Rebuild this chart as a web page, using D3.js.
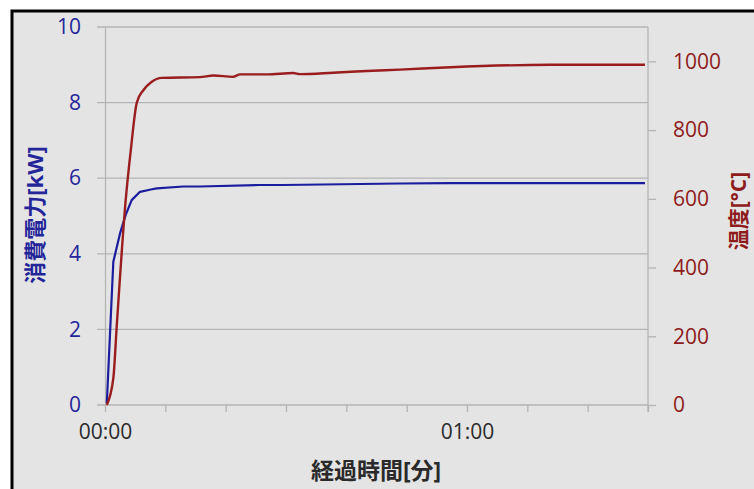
<!DOCTYPE html>
<html>
<head>
<meta charset="utf-8">
<script src="https://cdn.jsdelivr.net/npm/d3@7"></script>
<style>
	body { margin: 0; background: #fff; }
	text { font-family: "Open Sans", "Noto Sans CJK JP", sans-serif; }
</style>
</head>
<body>
<div id="chartDiv"></div>
<script>

// elapsed minutes for each reading
let tempMinutes = [0.3, 1.38, 1.94, 3.43, 4.27, 5.27, 6.35, 7.7, 9.4, 15.7, 18.0, 21.2, 22.4, 26.8, 31.2, 32.3, 37.8, 43.4, 48.9, 57.3, 73.8, 89.5]
let tempValues  = [0, 78, 228, 596, 741, 880, 916, 940, 952, 954, 959, 955, 962, 962, 966, 963, 967, 972, 976, 983, 990, 990]

let powerMinutes = [0.3, 1.38, 2.49, 3.43, 4.42, 5.8, 7.6, 8.6, 13.0, 15.7, 25.5, 29.5, 48.9, 57.3, 89.5]
let powerValues  = [0.05, 3.79, 4.54, 5.03, 5.42, 5.64, 5.70, 5.73, 5.78, 5.78, 5.82, 5.82, 5.86, 5.87, 5.87]

let xTicks = [0, 10, 20, 30, 40, 50, 60, 70, 80, 90]
let xLabelTicks = [0, 60]
let powerTicks = [0, 2, 4, 6, 8, 10]
let tempTicks = [0, 200, 400, 600, 800, 1000]

class DualChart {

	constructor(parentElement){
		this.parentElement = parentElement
		this.initVis()
	}

	initVis(){
		let vis = this
		vis.margin = {top: 27, right: 106, bottom: 84, left: 105};
		vis.width = 754 - vis.margin.left - vis.margin.right
		vis.height = 489 - vis.margin.top - vis.margin.bottom

		vis.svg = d3.select(vis.parentElement).append("svg")
			.attr("width", 754)
			.attr("height", 489)

		// panel background and the frame
		vis.svg.append("rect")
			.attr("x", 12).attr("y", 11)
			.attr("width", 760).attr("height", 500)
			.attr("fill", "#e4e4e4")
			.attr("stroke", "#000")
			.attr("stroke-width", 3)

		vis.g = vis.svg.append("g")
			.attr("transform", "translate(" + vis.margin.left + "," + vis.margin.top + ")")

		vis.x = d3.scaleLinear().domain([0, 90]).range([0, vis.width])
		vis.yPower = d3.scaleLinear().domain([0, 10]).range([vis.height, 0])
		vis.yTemp = d3.scaleLinear().domain([0, 1100]).range([vis.height, 0])

		// horizontal gridlines
		vis.g.selectAll(".grid")
			.data(powerTicks)
			.enter().append("line")
			.attr("class", "grid")
			.attr("x1", -8).attr("x2", vis.width)
			.attr("y1", d => vis.yPower(d)).attr("y2", d => vis.yPower(d))
			.attr("stroke", "#b4b4b4").attr("stroke-width", 1.3)

		// left axis
		let leftAxis = vis.g.append("g")
			.call(d3.axisLeft(vis.yPower).tickValues(powerTicks).tickSize(0).tickPadding(24))
		leftAxis.select(".domain").attr("stroke", "#b4b4b4").attr("stroke-width", 1.3)
		leftAxis.selectAll("text").attr("fill", "#25259a").attr("font-size", "21px")

		// right axis
		let rightAxis = vis.g.append("g")
			.attr("transform", "translate(" + vis.width + ",0)")
			.call(d3.axisRight(vis.yTemp).tickValues(tempTicks).tickSize(8).tickPadding(17).tickFormat(d3.format("d")))
		rightAxis.select(".domain").attr("stroke", "#b4b4b4").attr("stroke-width", 1.3).attr("d", "M0," + (vis.height + 7) + "V0")
		rightAxis.selectAll(".tick line").attr("stroke", "#b4b4b4").attr("stroke-width", 1.3)
		rightAxis.selectAll("text").attr("fill", "#8e1b1b").attr("font-size", "21px")

		// bottom axis
		let bottomAxis = vis.g.append("g")
			.attr("transform", "translate(0," + vis.height + ")")
			.call(d3.axisBottom(vis.x).tickValues(xTicks).tickSize(7).tickPadding(12)
				.tickFormat(d => xLabelTicks.includes(d) ? d3.format("02")(Math.floor(d / 60)) + ":" + d3.format("02")(d % 60) : ""))
		bottomAxis.select(".domain").remove()
		bottomAxis.selectAll(".tick line").attr("stroke", "#b4b4b4").attr("stroke-width", 1.3)
		bottomAxis.selectAll("text").attr("fill", "#2a2a2a").attr("font-size", "21px")

		// lines
		let powerLine = d3.line()
			.x((d, i) => vis.x(powerMinutes[i]))
			.y(d => vis.yPower(d))
		let tempLine = d3.line()
			.x((d, i) => vis.x(tempMinutes[i]))
			.y(d => vis.yTemp(d))
			.curve(d3.curveMonotoneX)

		vis.g.append("path")
			.datum(powerValues)
			.attr("d", powerLine)
			.attr("fill", "none")
			.attr("stroke", "#1c1c9e")
			.attr("stroke-width", 2.2)
			.attr("stroke-linejoin", "round")

		vis.g.append("path")
			.datum(tempValues)
			.attr("d", tempLine)
			.attr("fill", "none")
			.attr("stroke", "#9a1d1d")
			.attr("stroke-width", 2.4)
			.attr("stroke-linejoin", "round")

		// axis titles
		vis.svg.append("text")
			.attr("transform", "translate(43,215) rotate(-90)")
			.attr("text-anchor", "middle")
			.attr("font-size", "22px").attr("font-weight", "bold")
			.attr("fill", "#25259a")
			.text("消費電力[kW]")

		vis.svg.append("text")
			.attr("transform", "translate(746,211) rotate(-90)")
			.attr("text-anchor", "middle")
			.attr("font-size", "21px").attr("font-weight", "bold")
			.attr("fill", "#8e1b1b")
			.text("温度[°C]")

		vis.svg.append("text")
			.attr("x", 376).attr("y", 479)
			.attr("text-anchor", "middle")
			.attr("font-size", "23px").attr("font-weight", "bold")
			.attr("fill", "#2a2a2a")
			.text("経過時間[分]")
	}
}

let chart = new DualChart("#chartDiv")
</script>
</body>
</html>
